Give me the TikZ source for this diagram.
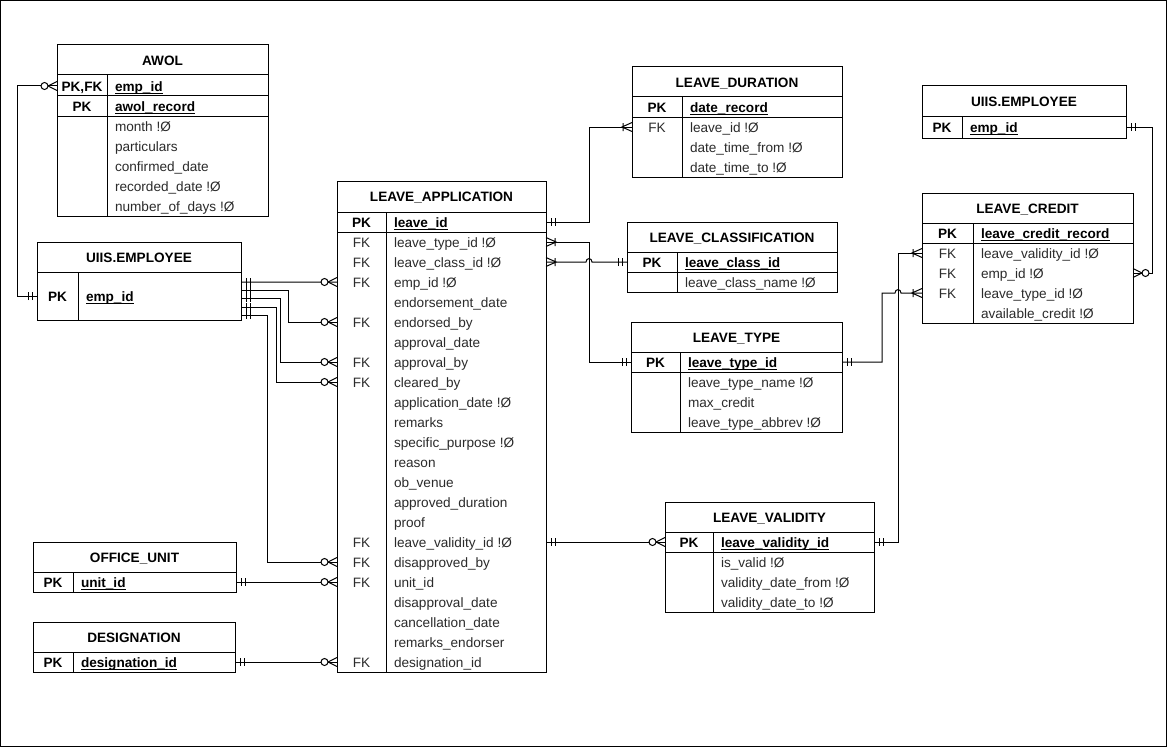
\documentclass[tikz,border=0pt]{standalone}
\usepackage{fontspec}
\setmainfont{Liberation Sans}
\definecolor{txtgray}{HTML}{2B2B2B}
% baseline offset of a text line below the centre of its 20px row
\newcommand\erbl{5.3}
\newcommand\erfont{\fontsize{13.6bp}{16bp}\selectfont}
% table frame: name, x0, x1, top, title bottom, bottom, title
\newcommand\ertable[7]{%
  \node[tblbox, minimum width={(#3-#2)*1bp}, minimum height={(#6-#4)*1bp}] (#1) at ({(#2+#3)/2},{(#4+#6)/2}) {};
  \draw[link] (#2,#5) -- (#3,#5);
  \node[titletxt] (#1-title) at ({(#2+#3)/2},{(#4+#5)/2+\erbl}) {#7};
}
% horizontal rule: x0, x1, y
\newcommand\errule[3]{\draw[link] (#1,#3) -- (#2,#3);}
% column divider: x, y0, y1
\newcommand\ersplit[3]{\draw[link] (#1,#2) -- (#1,#3);}
% ordinary row: name, x0, x1, divider, y centre, key, field
\newcommand\errow[7]{%
  \node[rowslot, minimum width={(#3-#2)*1bp}] (#1) at ({(#2+#3)/2},#5) {};
  \node[fkkey] (#1-key) at ({(#2+#4)/2},{#5+\erbl}) {#6};
  \node[fieldtxt] (#1-field) at ({#4+8},{#5+\erbl}) {#7};
}
% primary key row: bold key, bold underlined field
\newcommand\erpkrow[7]{%
  \node[rowslot, minimum width={(#3-#2)*1bp}] (#1) at ({(#2+#3)/2},#5) {};
  \node[pkkey] (#1-key) at ({(#2+#4)/2},{#5+\erbl}) {#6};
  \node[pkfield] (#1-field) at ({#4+8},{#5+\erbl}) {#7};
  \draw[link] ([yshift=-2bp]#1-field.base west) -- ([yshift=-2bp]#1-field.base east);
}
\begin{document}
\begin{tikzpicture}[x=1bp, y=-1bp,
  every node/.style={inner sep=0pt, outer sep=0pt},
  link/.style={line width=1bp, draw=black},
  tblbox/.style={rectangle, draw=black, line width=1bp, fill=white},
  rowslot/.style={rectangle, minimum height=20bp},
  titletxt/.style={anchor=base, font=\erfont\bfseries},
  pkkey/.style={anchor=base, font=\erfont\bfseries},
  fkkey/.style={anchor=base, font=\erfont, text=txtgray},
  fieldtxt/.style={anchor=base west, font=\erfont, text=txtgray},
  pkfield/.style={anchor=base west, font=\erfont\bfseries},
  mandone/.pic={\draw[link] (5,-4) -- (5,4) (9,-4) -- (9,4);},
  onemany/.pic={\draw[link] (0,-4.5) -- (10,0) -- (0,4.5) (9,-4) -- (9,4);},
  zeromany/.pic={\draw[link] (0,-4.5) -- (9,0) -- (0,4.5);
                 \draw[link, fill=white] (12.5,0) circle (3.5bp);},
]
\useasboundingbox (0,0) rectangle (1168,747);
\draw[link] (0.5,0.5) rectangle (1166.5,746);

% ---------- AWOL ----------
\ertable{awol}{57}{268}{45}{75}{216}{AWOL}
\errule{57}{268}{96}
\errule{57}{268}{116}
\ersplit{107}{75}{216}
\erpkrow{awol-emp}{57}{268}{107}{86}{PK,FK}{emp\_id}
\erpkrow{awol-rec}{57}{268}{107}{106}{PK}{awol\_record}
\errow{awol-month}{57}{268}{107}{126}{}{month !Ø}
\errow{awol-part}{57}{268}{107}{146}{}{particulars}
\errow{awol-conf}{57}{268}{107}{166}{}{confirmed\_date}
\errow{awol-recd}{57}{268}{107}{186}{}{recorded\_date !Ø}
\errow{awol-days}{57}{268}{107}{206}{}{number\_of\_days !Ø}

% ---------- UIIS.EMPLOYEE (left) ----------
\ertable{empL}{37}{241}{242}{272}{320}{UIIS.EMPLOYEE}
\ersplit{78}{272}{320}
\erpkrow{empL-pk}{37}{241}{78}{296}{PK}{emp\_id}

% ---------- LEAVE_APPLICATION ----------
\ertable{la}{337}{546}{181}{212}{672}{LEAVE\_APPLICATION}
\errule{337}{546}{232}
\ersplit{386}{212}{672}
\erpkrow{la-pk}{337}{546}{386}{222}{PK}{leave\_id}
\errow{la-type}{337}{546}{386}{242}{FK}{leave\_type\_id !Ø}
\errow{la-class}{337}{546}{386}{262}{FK}{leave\_class\_id !Ø}
\errow{la-emp}{337}{546}{386}{282}{FK}{emp\_id !Ø}
\errow{la-enddate}{337}{546}{386}{302}{}{endorsement\_date}
\errow{la-endby}{337}{546}{386}{322}{FK}{endorsed\_by}
\errow{la-appdate}{337}{546}{386}{342}{}{approval\_date}
\errow{la-appby}{337}{546}{386}{362}{FK}{approval\_by}
\errow{la-clrby}{337}{546}{386}{382}{FK}{cleared\_by}
\errow{la-applic}{337}{546}{386}{402}{}{application\_date !Ø}
\errow{la-remarks}{337}{546}{386}{422}{}{remarks}
\errow{la-purpose}{337}{546}{386}{442}{}{specific\_purpose !Ø}
\errow{la-reason}{337}{546}{386}{462}{}{reason}
\errow{la-venue}{337}{546}{386}{482}{}{ob\_venue}
\errow{la-apdur}{337}{546}{386}{502}{}{approved\_duration}
\errow{la-proof}{337}{546}{386}{522}{}{proof}
\errow{la-valid}{337}{546}{386}{542}{FK}{leave\_validity\_id !Ø}
\errow{la-disby}{337}{546}{386}{562}{FK}{disapproved\_by}
\errow{la-unit}{337}{546}{386}{582}{FK}{unit\_id}
\errow{la-disdate}{337}{546}{386}{602}{}{disapproval\_date}
\errow{la-candate}{337}{546}{386}{622}{}{cancellation\_date}
\errow{la-remend}{337}{546}{386}{642}{}{remarks\_endorser}
\errow{la-desig}{337}{546}{386}{662}{FK}{designation\_id}

% ---------- LEAVE_DURATION ----------
\ertable{ld}{632}{842}{67}{97}{177}{LEAVE\_DURATION}
\errule{632}{842}{117}
\ersplit{682}{97}{177}
\erpkrow{ld-pk}{632}{842}{682}{107}{PK}{date\_record}
\errow{ld-leave}{632}{842}{682}{127}{FK}{leave\_id !Ø}
\errow{ld-from}{632}{842}{682}{147}{}{date\_time\_from !Ø}
\errow{ld-to}{632}{842}{682}{167}{}{date\_time\_to !Ø}

% ---------- LEAVE_CLASSIFICATION ----------
\ertable{lc}{627}{837}{222}{252}{292}{LEAVE\_CLASSIFICATION}
\errule{627}{837}{272}
\ersplit{677}{252}{292}
\erpkrow{lc-pk}{627}{837}{677}{262}{PK}{leave\_class\_id}
\errow{lc-name}{627}{837}{677}{282}{}{leave\_class\_name !Ø}

% ---------- LEAVE_TYPE ----------
\ertable{lt}{631}{842}{322}{352}{432}{LEAVE\_TYPE}
\errule{631}{842}{372}
\ersplit{680}{352}{432}
\erpkrow{lt-pk}{631}{842}{680}{362}{PK}{leave\_type\_id}
\errow{lt-name}{631}{842}{680}{382}{}{leave\_type\_name !Ø}
\errow{lt-max}{631}{842}{680}{402}{}{max\_credit}
\errow{lt-abbr}{631}{842}{680}{422}{}{leave\_type\_abbrev !Ø}

% ---------- UIIS.EMPLOYEE (right) ----------
\ertable{empR}{922}{1126}{86}{116}{138}{UIIS.EMPLOYEE}
\ersplit{962}{116}{138}
\erpkrow{empR-pk}{922}{1126}{962}{127}{PK}{emp\_id}

% ---------- LEAVE_CREDIT ----------
\ertable{lcr}{922}{1133}{193}{223}{323}{LEAVE\_CREDIT}
\errule{922}{1133}{243}
\ersplit{973}{223}{323}
\erpkrow{lcr-pk}{922}{1133}{973}{233}{PK}{leave\_credit\_record}
\errow{lcr-valid}{922}{1133}{973}{253}{FK}{leave\_validity\_id !Ø}
\errow{lcr-emp}{922}{1133}{973}{273}{FK}{emp\_id !Ø}
\errow{lcr-type}{922}{1133}{973}{293}{FK}{leave\_type\_id !Ø}
\errow{lcr-avail}{922}{1133}{973}{313}{}{available\_credit !Ø}

% ---------- LEAVE_VALIDITY ----------
\ertable{lv}{665}{874}{502}{532}{612}{LEAVE\_VALIDITY}
\errule{665}{874}{552}
\ersplit{713}{532}{612}
\erpkrow{lv-pk}{665}{874}{713}{542}{PK}{leave\_validity\_id}
\errow{lv-isvalid}{665}{874}{713}{562}{}{is\_valid !Ø}
\errow{lv-from}{665}{874}{713}{582}{}{validity\_date\_from !Ø}
\errow{lv-to}{665}{874}{713}{602}{}{validity\_date\_to !Ø}

% ---------- OFFICE_UNIT ----------
\ertable{ou}{33}{236}{542}{572}{592}{OFFICE\_UNIT}
\ersplit{73}{572}{592}
\erpkrow{ou-pk}{33}{236}{73}{582}{PK}{unit\_id}

% ---------- DESIGNATION ----------
\ertable{des}{33}{235}{622}{652}{672}{DESIGNATION}
\ersplit{73}{652}{672}
\erpkrow{des-pk}{33}{235}{73}{662}{PK}{designation\_id}

% ---------- relationships ----------
\draw[link] (awol-emp.west) -- ++(-40,0) |- (empL-pk.west);
\draw[link] ([yshift=14bp]empL-pk.east) -- (la-emp.west);
\draw[link] ([yshift=6bp]empL-pk.east) -- ++(47,0) |- (la-endby.west);
\draw[link] ([yshift=-2bp]empL-pk.east) -- ++(39,0) |- (la-appby.west);
\draw[link] ([yshift=-11bp]empL-pk.east) -- ++(35,0) |- (la-clrby.west);
\draw[link] ([yshift=-19bp]empL-pk.east) -- ++(26,0) |- (la-disby.west);
\draw[link] (la-pk.east) -- ++(43,0) |- (ld-leave.west);
\draw[link] (la-type.east) -- ++(43,0) |- (lt-pk.west);
\draw[link] (la-class.east) -- (586,262) .. controls (586,257.5) and (592,257.5) .. (592,262) -- (lc-pk.west);
\draw[link] (la-valid.east) -- (lv-pk.west);
\draw[link] (ou-pk.east) -- (la-unit.west);
\draw[link] (des-pk.east) -- (la-desig.west);
\draw[link] (lv-pk.east) -- ++(24,0) |- (lcr-valid.west);
\draw[link] (lt-pk.east) -- (882,362) -- (882,293) -- (895,293) .. controls (895,288.5) and (901,288.5) .. (901,293) -- (lcr-type.west);
\draw[link] (empR-pk.east) -- ++(26,0) |- (lcr-emp.east);

% ---------- cardinality marks ----------
\pic[rotate=180] at (awol-emp.west) {zeromany};
\pic[rotate=180] at (empL-pk.west) {mandone};
\pic at ([yshift=14bp]empL-pk.east) {mandone};
\pic at ([yshift=6bp]empL-pk.east) {mandone};
\pic at ([yshift=-2bp]empL-pk.east) {mandone};
\pic at ([yshift=-11bp]empL-pk.east) {mandone};
\pic at ([yshift=-19bp]empL-pk.east) {mandone};
\pic[rotate=180] at (la-emp.west) {zeromany};
\pic[rotate=180] at (la-endby.west) {zeromany};
\pic[rotate=180] at (la-appby.west) {zeromany};
\pic[rotate=180] at (la-clrby.west) {zeromany};
\pic[rotate=180] at (la-disby.west) {zeromany};
\pic[rotate=180] at (la-unit.west) {zeromany};
\pic[rotate=180] at (la-desig.west) {zeromany};
\pic at (ou-pk.east) {mandone};
\pic at (des-pk.east) {mandone};
\pic at (la-pk.east) {mandone};
\pic[rotate=180] at (ld-leave.west) {onemany};
\pic at (la-type.east) {onemany};
\pic[rotate=180] at (lt-pk.west) {mandone};
\pic at (la-class.east) {onemany};
\pic[rotate=180] at (lc-pk.west) {mandone};
\pic at (la-valid.east) {mandone};
\pic[rotate=180] at (lv-pk.west) {zeromany};
\pic at (lv-pk.east) {mandone};
\pic[rotate=180] at (lcr-valid.west) {onemany};
\pic at (lt-pk.east) {mandone};
\pic[rotate=180] at (lcr-type.west) {onemany};
\pic at (empR-pk.east) {mandone};
\pic at (lcr-emp.east) {zeromany};
\end{tikzpicture}
\end{document}
